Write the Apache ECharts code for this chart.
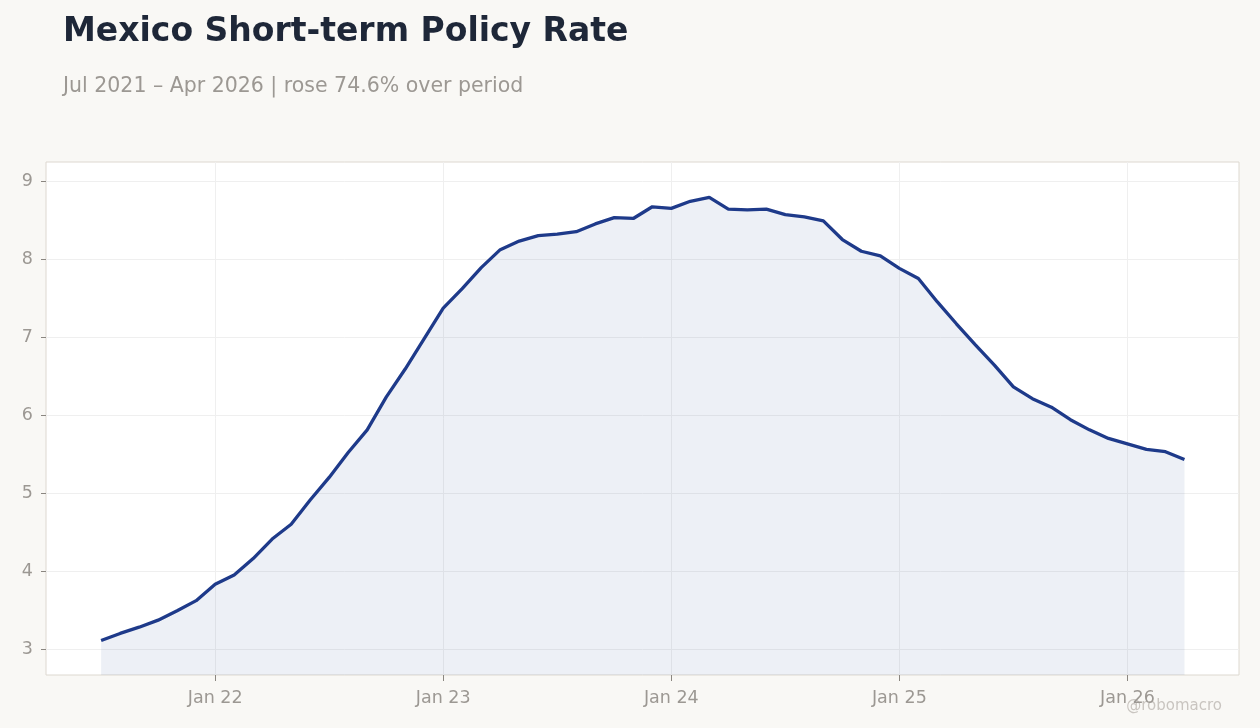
<!DOCTYPE html>
<html>
<head>
<meta charset="utf-8">
<title>Mexico Short-term Policy Rate</title>
<script src="https://cdn.jsdelivr.net/npm/echarts@6/dist/echarts.min.js"></script>
<style>
  html, body { margin: 0; padding: 0; background: #f9f8f5; }
  #chart { width: 1260px; height: 728px; }
</style>
</head>
<body>
<div id="chart"></div>
<script>
// monthly values, Jul 2021 .. Apr 2026 (x = months since Jan 2021)
var firstMonth = 6; // Jul 2021
var rates = [
  3.11, 3.20, 3.28, 3.37, 3.49, 3.62,                         // 2021 Jul-Dec
  3.83, 3.95, 4.16, 4.41, 4.60, 4.91, 5.20, 5.52, 5.81, 6.23, 6.59, 6.98, // 2022
  7.37, 7.62, 7.89, 8.12, 8.23, 8.30, 8.32, 8.35, 8.45, 8.53, 8.52, 8.67, // 2023
  8.65, 8.74, 8.79, 8.64, 8.63, 8.64, 8.57, 8.54, 8.49, 8.25, 8.10, 8.04, // 2024
  7.88, 7.75, 7.45, 7.17, 6.90, 6.64, 6.36, 6.21, 6.10, 5.94, 5.81, 5.70, // 2025
  5.63, 5.56, 5.53, 5.43                                      // 2026 Jan-Apr
];
var xTicks = [12, 24, 36, 48, 60];
var xTickLabels = ['Jan 22', 'Jan 23', 'Jan 24', 'Jan 25', 'Jan 26'];
var yTicks = [3, 4, 5, 6, 7, 8, 9];

var seriesData = rates.map(function (v, i) {
  return [firstMonth + i, v];
});

var chart = echarts.init(document.getElementById('chart'));
var gray = '#9c9893';
var option = {
  backgroundColor: '#f9f8f5',
  textStyle: { fontFamily: 'DejaVu Sans' },
  title: {
    text: 'Mexico Short-term Policy Rate',
    subtext: 'Jul 2021 \u2013 Apr 2026 | rose 74.6% over period',
    left: 58,
    top: 11,
    itemGap: 27,
    textStyle: { fontSize: 33, fontWeight: 'bold', color: '#1e2738', fontFamily: 'DejaVu Sans' },
    subtextStyle: { fontSize: 20.5, color: gray, fontFamily: 'DejaVu Sans' }
  },
  graphic: [{
    type: 'text',
    right: 38,
    top: 699,
    style: { text: '@robomacro', fontSize: 15, fill: '#c9c5c0', fontFamily: 'DejaVu Sans' }
  }],
  grid: {
    left: 46, right: 21, top: 162, bottom: 53,
    show: true, backgroundColor: '#ffffff', borderColor: '#ddd8d0', borderWidth: 1
  },
  xAxis: {
    type: 'value',
    min: 3.1,
    max: 65.87,
    axisLine: { show: false },
    axisTick: { show: true, customValues: xTicks, length: 6, lineStyle: { color: '#8a8680' } },
    axisLabel: {
      customValues: xTicks,
      color: gray, fontSize: 17.5, margin: 14,
      formatter: function (val) {
        return xTickLabels[xTicks.indexOf(val)];
      }
    },
    splitLine: { show: true, lineStyle: { color: '#efefef', width: 1 } }
  },
  yAxis: {
    type: 'value',
    min: 2.667,
    max: 9.244,
    axisLine: { show: false },
    axisTick: { show: true, customValues: yTicks, length: 5, lineStyle: { color: '#8a8680' } },
    axisLabel: { customValues: yTicks, color: gray, fontSize: 17.5, margin: 13 },
    splitLine: { show: true, lineStyle: { color: '#efefef', width: 1 } }
  },
  series: [{
    type: 'line',
    data: seriesData,
    showSymbol: false,
    symbol: 'none',
    lineStyle: { color: '#1e3a8a', width: 3.3 },
    areaStyle: { color: 'rgba(30,58,138,0.11)' },
    silent: true
  }]
};
chart.setOption(option);
</script>
</body>
</html>
